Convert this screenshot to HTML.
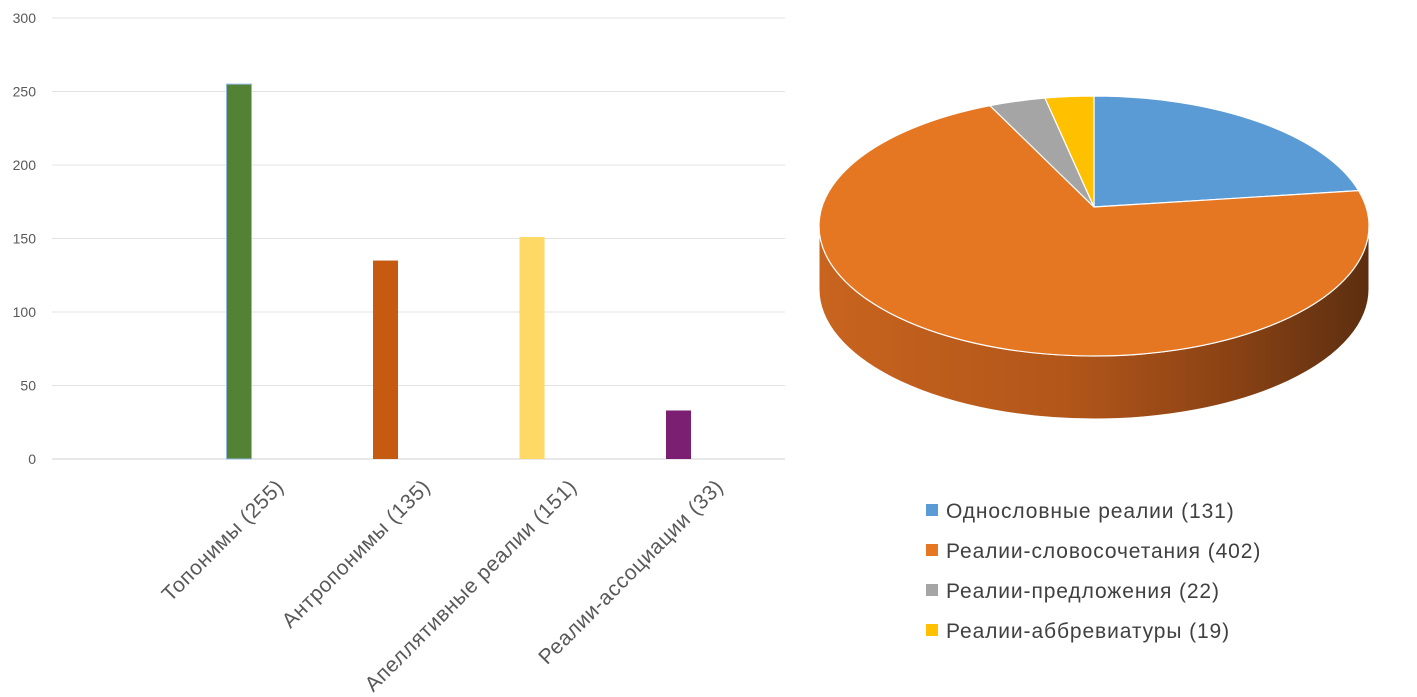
<!DOCTYPE html>
<html><head><meta charset="utf-8"><style>
html,body{margin:0;padding:0;background:#fff;}
svg{display:block;font-family:"Liberation Sans","DejaVu Sans",sans-serif;}
</style></head><body>
<svg id="root" width="1417" height="697" viewBox="0 0 1417 697">
<defs>
<linearGradient id="side" x1="0" x2="1" y1="0" y2="0">
<stop offset="0" stop-color="#c8641e"/><stop offset="0.45" stop-color="#b2561a"/><stop offset="0.75" stop-color="#8a4214"/><stop offset="1" stop-color="#5c2f10"/>
</linearGradient>
</defs>
<g id="bar-chart"></g>
<g id="pie-chart"></g>
<g id="legend"></g>
</svg>
<script>
const barCategories=["Топонимы (255)","Антропонимы (135)","Апеллятивные реалии (151)","Реалии-ассоциации (33)"];
const barValues=[255,135,151,33];
const barColors=["#548235","#c55a11","#ffd966","#7b1f73"];
const yTicks=[0,50,100,150,200,250,300];
const pieLabels=["Однословные реалии (131)","Реалии-словосочетания (402)","Реалии-предложения (22)","Реалии-аббревиатуры (19)"];
const pieValues=[131,402,22,19];
const pieColors=["#5b9bd5","#e57723","#a5a5a5","#ffc000"];
const NS="http://www.w3.org/2000/svg";
function mk(tag,attrs,parent){const e=document.createElementNS(NS,tag);for(const k in attrs)e.setAttribute(k,attrs[k]);parent.appendChild(e);return e;}
const bc=document.getElementById('bar-chart');
const y0=459,yTop=18,yMax=300;
const yScale=v=>y0-(v/yMax)*(y0-yTop);
const xScale=i=>239+i*146.5;
yTicks.forEach(t=>{
  const l=mk('line',{x1:52,x2:785,y1:yScale(t),y2:yScale(t),stroke:t===0?'#d0d0d0':'#e3e3e3','stroke-width':1},bc);
  
  
  const tx=mk('text',{x:36,y:yScale(t)+5,'text-anchor':'end','font-size':14,fill:'#595959'},bc);
  tx.textContent=t;
  
  
});
barValues.forEach((v,i)=>{
  const cx=xScale(i);
  const r=mk('rect',{x:cx-12.5,y:yScale(v),width:25,height:y0-yScale(v),fill:barColors[i]},bc);
  if(i===0){r.setAttribute('stroke','#8fb8e0');r.setAttribute('stroke-width','1');}
  
  
  const px=cx+46,py=488;
  const t=mk('text',{x:px,y:py,'text-anchor':'end','font-size':21,'letter-spacing':0.6,fill:'#595959',transform:`rotate(-45 ${px} ${py})`},bc);
  t.textContent=barCategories[i];
  
  
});
// pie
const pc=document.getElementById('pie-chart');
const cx=1094,cy=226,rx=275,ry=130,ax=1094,ay=207,depth=63;
const side=mk('path',{d:`M${cx-rx},${cy} A${rx},${ry} 0 0 0 ${cx+rx},${cy} L${cx+rx},${cy+depth} A${rx},${ry} 0 0 1 ${cx-rx},${cy+depth} Z`,fill:'url(#side)',stroke:'#fff','stroke-width':1},pc);


const total=pieValues.reduce((a,b)=>a+b,0);
const pt=t=>{const w=t-0.14*Math.sin(t);return [cx+rx*Math.sin(w),cy-ry*Math.cos(w)];};
let acc=0;
pieValues.forEach((v,i)=>{
  const t0=acc/total*2*Math.PI;acc+=v;const t1=acc/total*2*Math.PI;
  const [x0,yy0]=pt(t0),[x1,yy1]=pt(t1);
  const large=(t1-t0)>Math.PI?1:0;
  const p=mk('path',{d:`M${ax},${ay} L${x0},${yy0} A${rx},${ry} 0 ${large} 1 ${x1},${yy1} Z`,fill:pieColors[i],stroke:'#fff','stroke-width':1.2},pc);
  
  
});
// legend
const lg=document.getElementById('legend');
pieLabels.forEach((s,i)=>{
  const y=510+i*40;
  const r=mk('rect',{x:926,y:y-6,width:12,height:12,fill:pieColors[i]},lg);
  
  
  const t=mk('text',{x:946,y:y+8,'font-size':21,'letter-spacing':0.9,fill:'#404040'},lg);
  t.textContent=s;
  
  
});
</script>
</body></html>
